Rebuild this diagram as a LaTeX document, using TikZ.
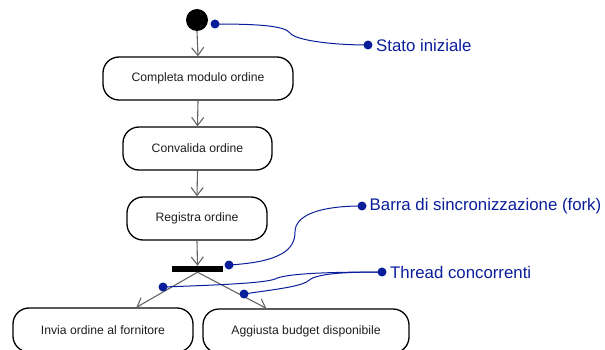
\documentclass[tikz,border=0pt]{standalone}
\usepackage{fontspec}
\setmainfont{Liberation Sans}
\usetikzlibrary{arrows.meta}
\definecolor{notecol}{RGB}{10,30,155}
\definecolor{flowcol}{RGB}{100,100,100}
\definecolor{labelcol}{RGB}{30,30,30}
\begin{document}
\begin{tikzpicture}[x=1pt,y=-1pt,
  action/.style={draw=black, line width=1.3pt, rounded corners=16pt,
    minimum height=43pt, inner sep=0pt, text=labelcol,
    font=\fontsize{12.2}{14}\selectfont},
  flow/.style={draw=flowcol, line width=1.1pt,
    -{Straight Barb[length=8pt,width=12pt,line width=1.1pt]}},
  note/.style={draw=notecol, line width=1pt},
  notedot/.style={circle, fill=notecol, inner sep=0pt, minimum size=9pt},
  notetext/.style={text=notecol, anchor=west, inner sep=0pt,
    font=\fontsize{16.8}{20}\selectfont}]
\useasboundingbox (0,0) rectangle (605,350);
\clip (0,0) rectangle (605,350);

% activity nodes
\node[circle, fill=black, inner sep=0pt, minimum size=22pt] (start) at (197,20) {};
\node[action, minimum width=190pt] (compila) at (198,78.5) {Completa modulo ordine};
\node[action, minimum width=149pt] (convalida) at (197.5,148.5) {Convalida ordine};
\node[action, minimum width=140pt] (registra) at (197,218.5) {Registra ordine};
\node[fill=black, inner sep=0pt, minimum width=51pt, minimum height=6pt] (fork) at (197.5,269) {};
\node[action, minimum width=180pt, minimum height=44pt] (invia) at (103,330) {Invia ordine al fornitore};
\node[action, minimum width=206pt, minimum height=44pt] (budget) at (306,331) {Aggiusta budget disponibile};

% control flow
\draw[flow] (start.south) -- (compila.north);
\draw[flow] (compila.south) -- (convalida.north);
\draw[flow] (convalida.south) -- (registra.north);
\draw[flow] (registra.south) -- (fork.north);
\draw[flow] (fork.south) -- ([xshift=124pt]invia.north west);
\draw[flow] (fork.south) -- ([xshift=64pt]budget.north west);

% annotations
\node[notedot] (dStart) at (215,24) {};
\node[notedot] (dStato) at (368,45) {};
\node[notetext] (tStato) at (376,45) {Stato iniziale};
\draw[note] (dStart.center) .. controls (260,24) and (285,26) .. (290,33)
  .. controls (295,40) and (330,45) .. (dStato.center);

\node[notedot] (dFork) at (229,265) {};
\node[notedot] (dBarra) at (362,206) {};
\node[notetext] (tBarra) at (369.5,206) {Barra di sincronizzazione (fork)};
\draw[note] (dFork.center) .. controls (280,262) and (295,250) .. (295,232)
  .. controls (295,215) and (320,206) .. (dBarra.center);

\node[notedot] (dLeft) at (163,287) {};
\node[notedot] (dRight) at (244,294) {};
\node[notedot] (dThread) at (382,272) {};
\node[notetext] (tThread) at (390,272) {Thread concorrenti};
\draw[note] (dLeft.center) .. controls (220,285) and (265,283) .. (275,279)
  .. controls (285,274) and (320,272) .. (dThread.center);
\draw[note] (dRight.center) .. controls (270,290) and (300,287) .. (308,281)
  .. controls (315,274) and (340,272) .. (dThread.center);
\end{tikzpicture}
\end{document}
